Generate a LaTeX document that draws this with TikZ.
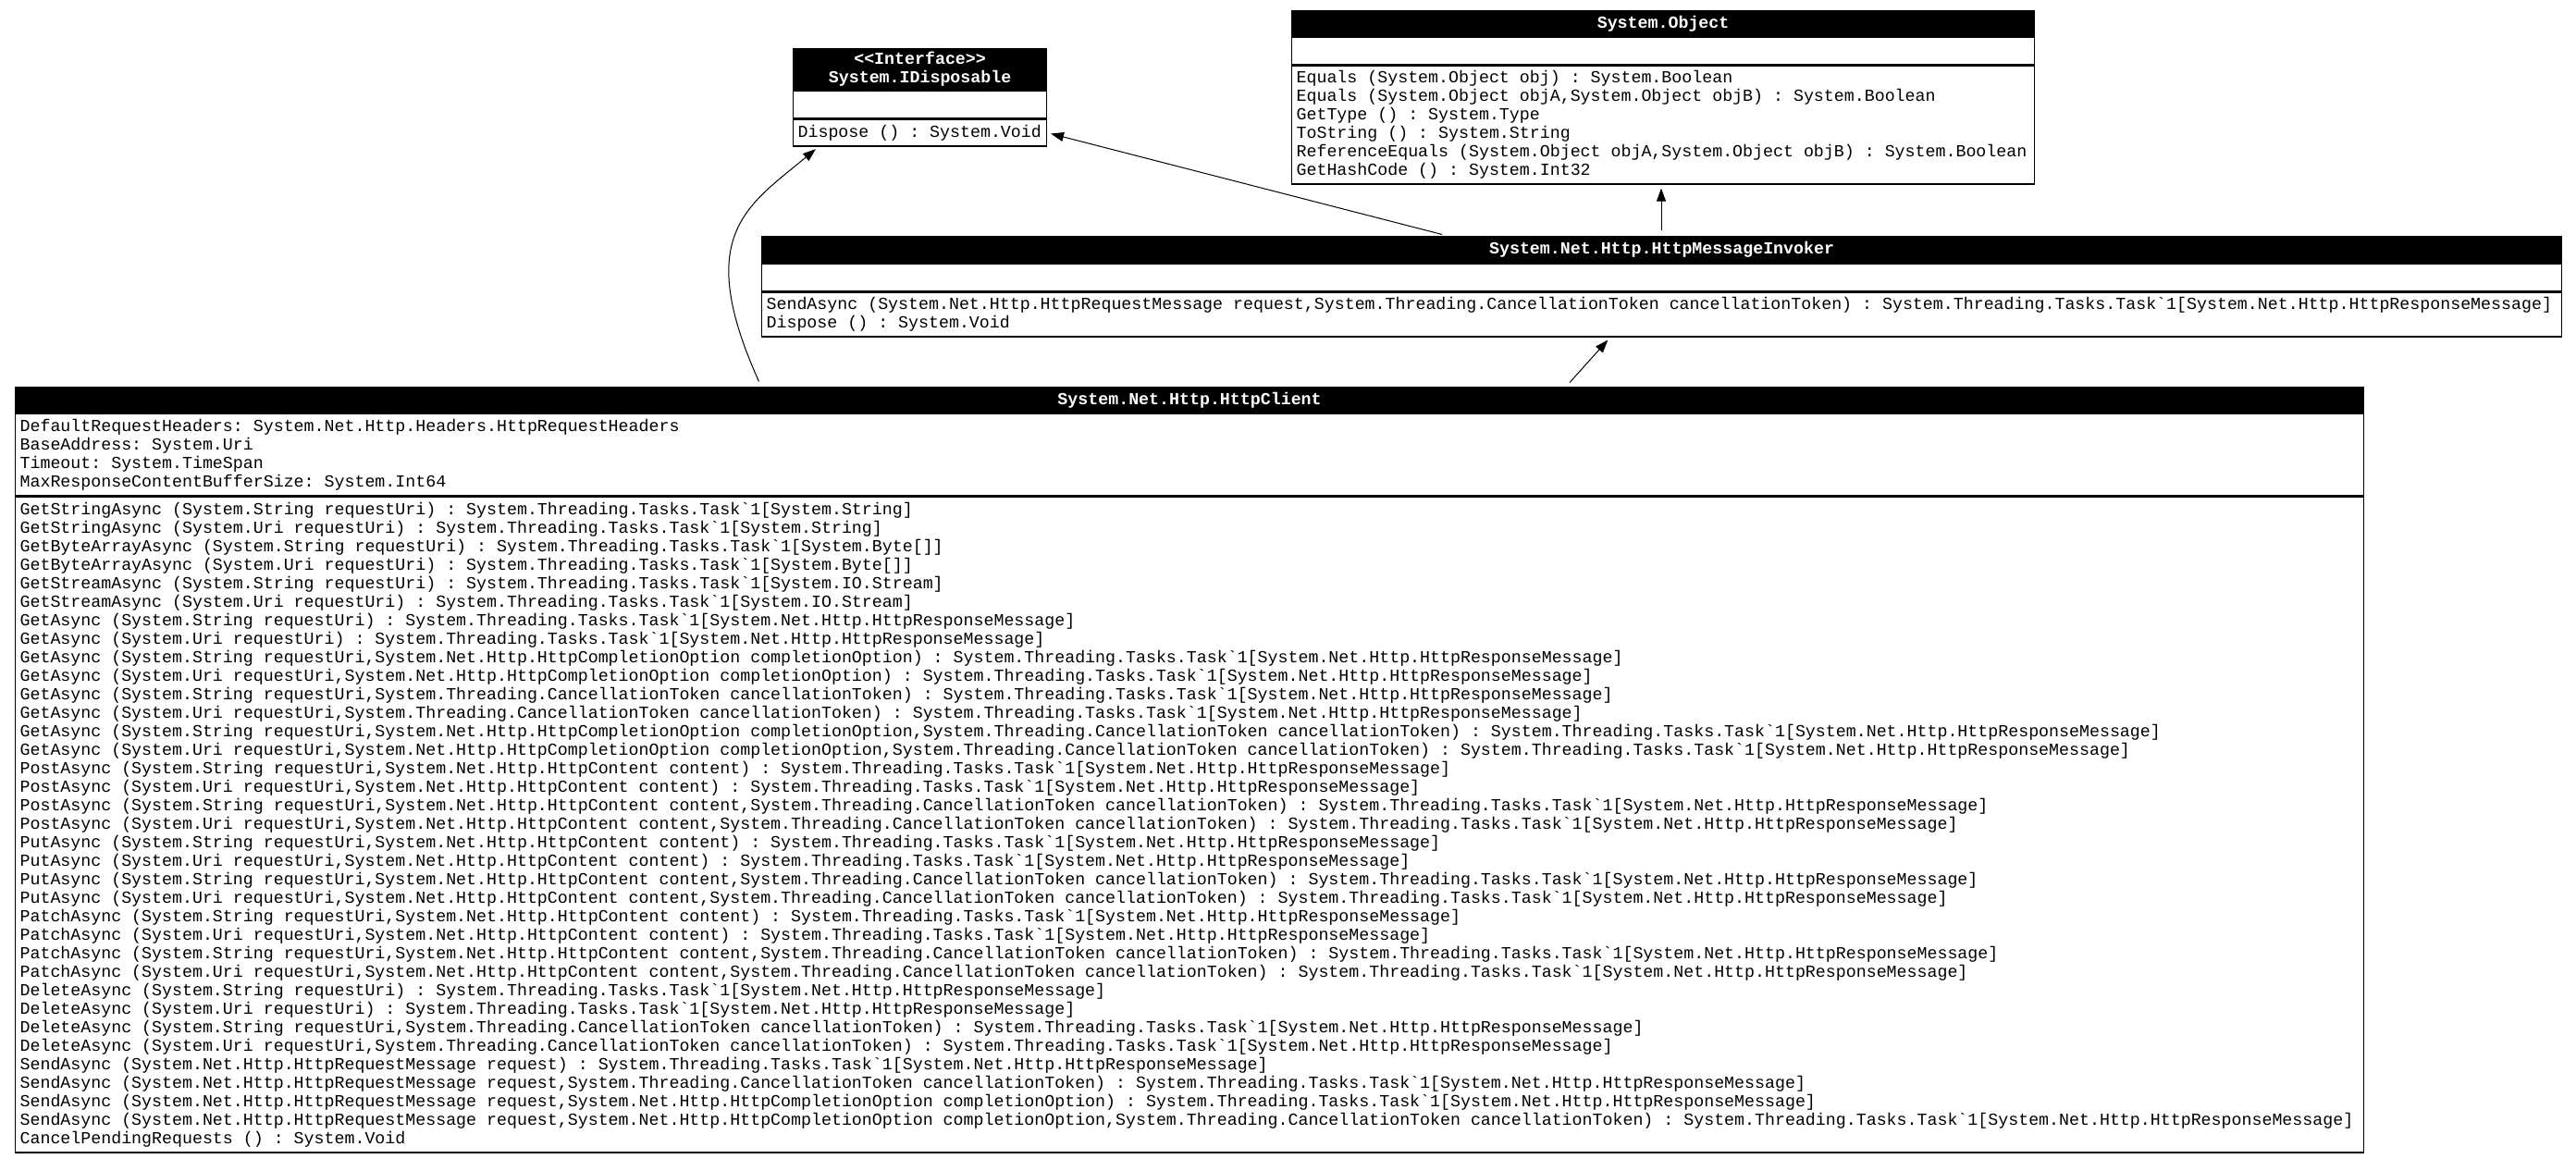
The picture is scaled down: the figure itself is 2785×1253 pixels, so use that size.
\documentclass[tikz,border=0pt]{standalone}
\usepackage{fontspec}
\setmonofont{Liberation Mono}
\usetikzlibrary{arrows.meta,calc}

\newcommand{\umlfont}{\ttfamily\fontsize{9.14pt}{10pt}\selectfont}
\newcommand{\umlhead}{\ttfamily\bfseries\fontsize{9.14pt}{10pt}\selectfont}
\newcommand{\monospaces}{\frenchspacing\spaceskip=0.6em\relax\xspaceskip=0.6em\relax}
\newcommand{\taskresp}{System.Threading.Tasks.Task`1[System.Net.Http.HttpResponseMessage]}

\tikzset{
  classhead/.style 2 args={draw=black, fill=black, text=white, font=\umlhead,
    align=center, anchor=north west, inner xsep=2.5pt, inner ysep=0pt,
    line width=0.6pt, text width=#1, minimum height=#2,
    execute at begin node=\monospaces},
  classpart/.style 2 args={draw=black, fill=white, font=\umlfont,
    align=left, anchor=north west, inner xsep=2.5pt, inner ysep=0pt,
    line width=0.6pt, text width=#1, minimum height=#2,
    execute at begin node=\monospaces},
  inherits/.style={-{Triangle[length=7pt,width=5pt]}, line width=0.5pt,
    shorten <=3pt, shorten >=2pt}
}

\begin{document}
\begin{tikzpicture}[x=0.5pt, y=-0.5pt]
\useasboundingbox (0,0) rectangle (2785,1253);

% interface
\node[classhead={132pt}{22.5pt}] (idisp) at (857,52) {<{}<Interface>{}>\\System.IDisposable};
\node[classpart={132pt}{14.5pt}] (idispattr) at (idisp.south west) {};
\node[classpart={132pt}{14.5pt}] (idispops) at (idispattr.south west) {Dispose () : System.Void};

% base object
\node[classhead={396.5pt}{14pt}] (object) at (1396,11) {System.Object};
\node[classpart={396.5pt}{14.5pt}] (objattr) at (object.south west) {};
\node[classpart={396.5pt}{64pt}] (objops) at (objattr.south west) {Equals (System.Object obj) : System.Boolean\\
Equals (System.Object objA,System.Object objB) : System.Boolean\\
GetType () : System.Type\\
ToString () : System.String\\
ReferenceEquals (System.Object objA,System.Object objB) : System.Boolean\\
GetHashCode () : System.Int32};

% message invoker
\node[classhead={968pt}{14.5pt}] (invoker) at (823,255) {System.Net.Http.HttpMessageInvoker};
\node[classpart={968pt}{14.5pt}] (invokerattr) at (invoker.south west) {};
\node[classpart={968pt}{24pt}] (invokerops) at (invokerattr.south west) {SendAsync (System.Net.Http.HttpRequestMessage request,System.Threading.CancellationToken cancellationToken) : \taskresp\\
Dispose () : System.Void};

% client
\node[classhead={1264.5pt}{14pt}] (client) at (16,418) {System.Net.Http.HttpClient};
\node[classpart={1264.5pt}{44pt}] (clientattr) at (client.south west) {DefaultRequestHeaders: System.Net.Http.Headers.HttpRequestHeaders\\
BaseAddress: System.Uri\\
Timeout: System.TimeSpan\\
MaxResponseContentBufferSize: System.Int64};
\node[classpart={1264.5pt}{354.5pt}] (clientops) at (clientattr.south west) {GetStringAsync (System.String requestUri) : System.Threading.Tasks.Task`1[System.String]\\
GetStringAsync (System.Uri requestUri) : System.Threading.Tasks.Task`1[System.String]\\
GetByteArrayAsync (System.String requestUri) : System.Threading.Tasks.Task`1[System.Byte[]]\\
GetByteArrayAsync (System.Uri requestUri) : System.Threading.Tasks.Task`1[System.Byte[]]\\
GetStreamAsync (System.String requestUri) : System.Threading.Tasks.Task`1[System.IO.Stream]\\
GetStreamAsync (System.Uri requestUri) : System.Threading.Tasks.Task`1[System.IO.Stream]\\
GetAsync (System.String requestUri) : \taskresp\\
GetAsync (System.Uri requestUri) : \taskresp\\
GetAsync (System.String requestUri,System.Net.Http.HttpCompletionOption completionOption) : \taskresp\\
GetAsync (System.Uri requestUri,System.Net.Http.HttpCompletionOption completionOption) : \taskresp\\
GetAsync (System.String requestUri,System.Threading.CancellationToken cancellationToken) : \taskresp\\
GetAsync (System.Uri requestUri,System.Threading.CancellationToken cancellationToken) : \taskresp\\
GetAsync (System.String requestUri,System.Net.Http.HttpCompletionOption completionOption,System.Threading.CancellationToken cancellationToken) : \taskresp\\
GetAsync (System.Uri requestUri,System.Net.Http.HttpCompletionOption completionOption,System.Threading.CancellationToken cancellationToken) : \taskresp\\
PostAsync (System.String requestUri,System.Net.Http.HttpContent content) : \taskresp\\
PostAsync (System.Uri requestUri,System.Net.Http.HttpContent content) : \taskresp\\
PostAsync (System.String requestUri,System.Net.Http.HttpContent content,System.Threading.CancellationToken cancellationToken) : \taskresp\\
PostAsync (System.Uri requestUri,System.Net.Http.HttpContent content,System.Threading.CancellationToken cancellationToken) : \taskresp\\
PutAsync (System.String requestUri,System.Net.Http.HttpContent content) : \taskresp\\
PutAsync (System.Uri requestUri,System.Net.Http.HttpContent content) : \taskresp\\
PutAsync (System.String requestUri,System.Net.Http.HttpContent content,System.Threading.CancellationToken cancellationToken) : \taskresp\\
PutAsync (System.Uri requestUri,System.Net.Http.HttpContent content,System.Threading.CancellationToken cancellationToken) : \taskresp\\
PatchAsync (System.String requestUri,System.Net.Http.HttpContent content) : \taskresp\\
PatchAsync (System.Uri requestUri,System.Net.Http.HttpContent content) : \taskresp\\
PatchAsync (System.String requestUri,System.Net.Http.HttpContent content,System.Threading.CancellationToken cancellationToken) : \taskresp\\
PatchAsync (System.Uri requestUri,System.Net.Http.HttpContent content,System.Threading.CancellationToken cancellationToken) : \taskresp\\
DeleteAsync (System.String requestUri) : \taskresp\\
DeleteAsync (System.Uri requestUri) : \taskresp\\
DeleteAsync (System.String requestUri,System.Threading.CancellationToken cancellationToken) : \taskresp\\
DeleteAsync (System.Uri requestUri,System.Threading.CancellationToken cancellationToken) : \taskresp\\
SendAsync (System.Net.Http.HttpRequestMessage request) : \taskresp\\
SendAsync (System.Net.Http.HttpRequestMessage request,System.Threading.CancellationToken cancellationToken) : \taskresp\\
SendAsync (System.Net.Http.HttpRequestMessage request,System.Net.Http.HttpCompletionOption completionOption) : \taskresp\\
SendAsync (System.Net.Http.HttpRequestMessage request,System.Net.Http.HttpCompletionOption completionOption,System.Threading.CancellationToken cancellationToken) : \taskresp\\
CancelPendingRequests () : System.Void};

% inheritance
\draw[inherits] ($(client.north west)+(807,0)$) .. controls +(-74,-164) and +(-77,64) .. ($(idispops.south west)+(28,0)$);
\draw[inherits] ($(invoker.north west)+(742,0)$) -- (idispops.east);
\draw[inherits] ($(invoker.north west)+(973,0)$) -- ($(objops.south west)+(400,0)$);
\draw[inherits] ($(client.north west)+(1677,0)$) -- ($(invokerops.south west)+(918,0)$);
\end{tikzpicture}
\end{document}
